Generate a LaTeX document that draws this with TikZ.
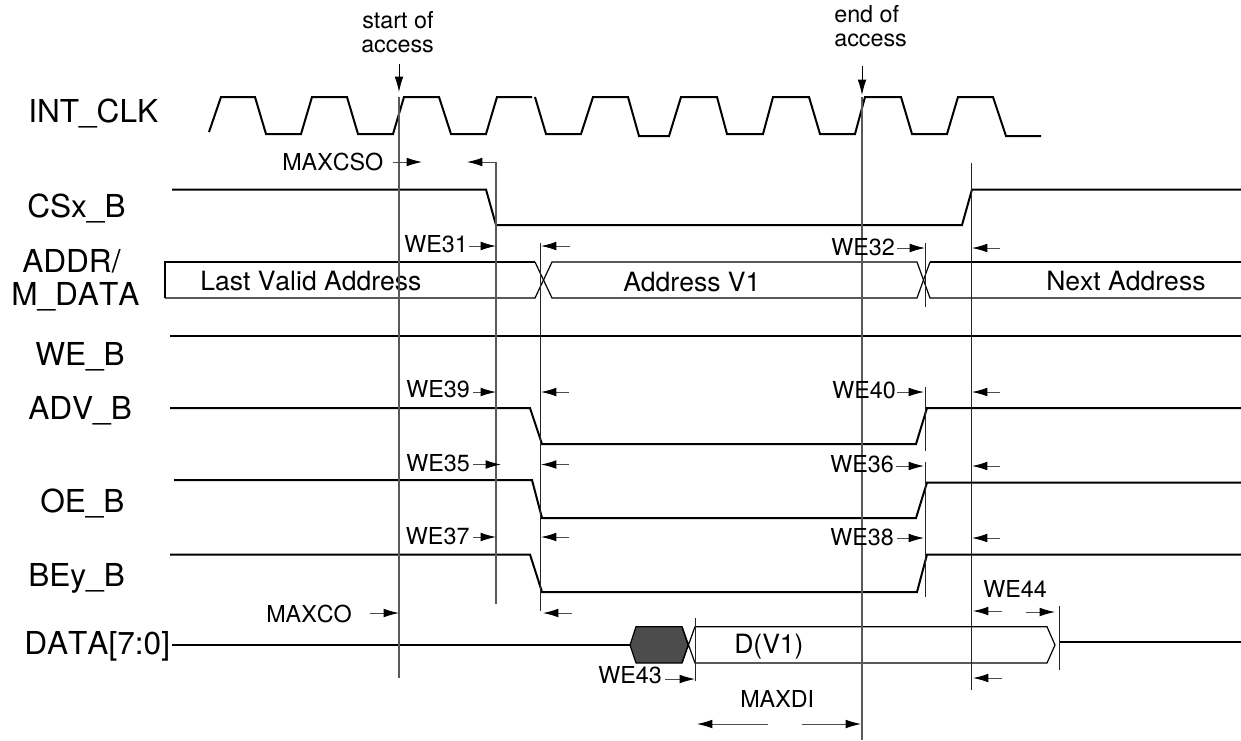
\documentclass[tikz,border=0pt]{standalone}
\usepackage{fontspec}
\setmainfont[Kerning=Off]{TeX Gyre Heros}
\usetikzlibrary{arrows.meta}

\begin{document}
\begin{tikzpicture}[
            x=0.75pt, y=-0.75pt,
            sig/.style={line width=1.5pt, line join=miter},
            bus/.style={line width=0.9pt},
            mark line/.style={line width=0.75pt, black!85},
            grey line/.style={line width=1.1pt, black!65},
            tick/.style={-{Latex[length=11.5pt,width=6.5pt,color=black]}, line width=0.7pt, black!70},
            big/.style={font=\fontsize{23.7}{28}\selectfont, inner sep=0pt, anchor=base west},
            mid/.style={font=\fontsize{19.9}{24}\selectfont, inner sep=0pt, anchor=base west},
            small/.style={font=\fontsize{17.5}{21}\selectfont, inner sep=0pt, anchor=base west}
        ]
        \useasboundingbox (0, 0) rectangle (1241, 740);

        % signal names
        \node[big] (intClk) at (28, 122.7) {INT\_CLK};
        \node[big] (csB) at (27, 217.7) {CSx\_B};
        \node[big] (addr) at (22, 272.7) {ADDR/};
        \node[big] (mData) at (11, 305) {M\_DATA};
        \node[big] (weB) at (35, 365) {WE\_B};
        \node[big] (advB) at (28, 419) {ADV\_B};
        \node[big] (oeB) at (40, 512.7) {OE\_B};
        \node[big] (beyB) at (28, 586) {BEy\_B};
        \node[big] (dataBus) at (24, 654) {DATA[7:0]};

        % clock
        \draw[sig] (209, 132) -- (221, 97) -- (255, 97) -- (266, 134) -- (301, 134) -- (312, 97)
            -- (347, 97) -- (358, 134) -- (393, 134) -- (404, 97) -- (439, 97) -- (451, 134)
            -- (486, 134) -- (497, 97) -- (532, 97);
        \draw[sig] (535, 97) -- (546, 134) -- (581, 134) -- (593, 97) -- (628, 97) -- (639, 136)
            -- (669, 136) -- (681, 97) -- (717, 97) -- (727, 134) -- (763, 134) -- (773, 97)
            -- (809, 97) -- (820, 134) -- (855, 134) -- (865, 97) -- (901, 97) -- (912, 134)
            -- (947, 134) -- (958, 97) -- (993, 97) -- (1006, 136) -- (1041, 136);

        % control lines
        \draw[sig] (172, 189.5) -- (486, 189.5) -- (496, 225) -- (962, 225) -- (972, 189.5) -- (1241, 189.5);
        \draw[sig] (170, 336) -- (1241, 336);
        \draw[sig] (170, 408) -- (530, 408) -- (542, 444) -- (916, 444) -- (927, 408) -- (1241, 408);
        \draw[sig] (174, 480) -- (532, 480) -- (542, 518) -- (916, 518) -- (927, 482.5) -- (1241, 482.5);
        \draw[sig] (170, 554.5) -- (530, 554.5) -- (542, 592) -- (917, 592) -- (927, 554.5) -- (1241, 554.5);

        % address bus
        \draw[sig] (535, 262) -- (165, 262) -- (165, 298);
        \draw[bus] (165, 298) -- (535, 298) -- (552, 262) -- (917, 262) -- (930, 298) -- (1241, 298);
        \draw[bus] (535, 262) -- (552, 298) -- (917, 298) -- (930, 262);
        \draw[sig] (930, 262) -- (1241, 262);
        \node[mid] (lastAddr) at (200, 290.7) {Last Valid Address};
        \node[mid] (addrOne) at (623, 291.7) {Address V1};
        \node[mid] (nextAddr) at (1046, 290) {Next Address};

        % data bus
        \draw[sig] (172, 645) -- (630, 645);
        \draw[line width=0.9pt, fill=black!70] (630, 645) -- (636, 626.7) -- (682, 626.7) -- (688, 645)
            -- (682, 663) -- (636, 663) -- cycle;
        \draw[bus] (682, 626.7) -- (695, 663) -- (1047, 663) -- (1055, 645) -- (1047, 626.7) -- (695, 626.7) -- (682, 663);
        \draw[sig] (1059, 642) -- (1241, 642);
        \node[mid] (dataOne) at (734, 653) {D(V1)};

        % time markers
        \draw[grey line] (399, 97) -- (399, 678);
        \draw[grey line] (496, 162) -- (496, 604);
        \draw[grey line] (862, 97) -- (862, 740);
        \draw[mark line] (540.5, 243) -- (540.5, 611);
        \draw[mark line] (971.5, 163) -- (971.5, 690);
        \draw[mark line] (925, 243) -- (925, 307);
        \draw[mark line] (925, 387) -- (925, 451);
        \draw[mark line] (925, 461.5) -- (925, 597);
        \draw[mark line] (695, 618) -- (695, 681);
        \draw[mark line] (1059, 606) -- (1059, 670);

        \node[small] (startOf) at (362, 28) {start of};
        \node[small] (startAccess) at (361, 52) {access};
        \node[small] (endOf) at (834, 22.7) {end of};
        \node[small] (endAccess) at (834, 46.7) {access};
        \draw[tick, black] (399, 64) -- (399, 92);
        \draw[tick, black] (862, 66) -- (862, 95);

        % timing labels
        \node[small] (maxCso) at (282, 170) {MAXCSO};
        \node[small] (maxCo) at (266, 622) {MAXCO};
        \node[small] (maxDi) at (740, 707) {MAXDI};
        \node[small] (we31) at (404, 252) {WE31};
        \node[small] (we32) at (831, 255) {WE32};
        \node[small] (we39) at (406, 397) {WE39};
        \node[small] (we40) at (832, 398) {WE40};
        \node[small] (we35) at (406, 471) {WE35};
        \node[small] (we36) at (830, 472) {WE36};
        \node[small] (we37) at (405.7, 544) {WE37};
        \node[small] (we38) at (830, 545) {WE38};
        \node[small] (we43) at (598, 683) {WE43};
        \node[small] (we44) at (983, 597) {WE44};

        % small arrows: start x, end x, y
        \foreach \xa/\xb/\ya in {393/422/162, 496/467/162, 469/496/246, 570/541/246, 897/925/248, 1000/972/248,
                473/496/392, 569/541/392, 897/924/392, 1000/972/392,
                473/501/464.5, 569/541/464.5, 896/924/466, 1000/972/466,
                473/496/537, 569/541/537, 897/924/538, 1000/972/538,
                370/399/613, 572/543/613, 665/695/679, 1002/973/611, 1026/1055/612, 1002/973/678,
                768/697/724, 802/861/724}
            \draw[tick] (\xa, \ya) -- (\xb, \ya);
    \end{tikzpicture}
\end{document}
